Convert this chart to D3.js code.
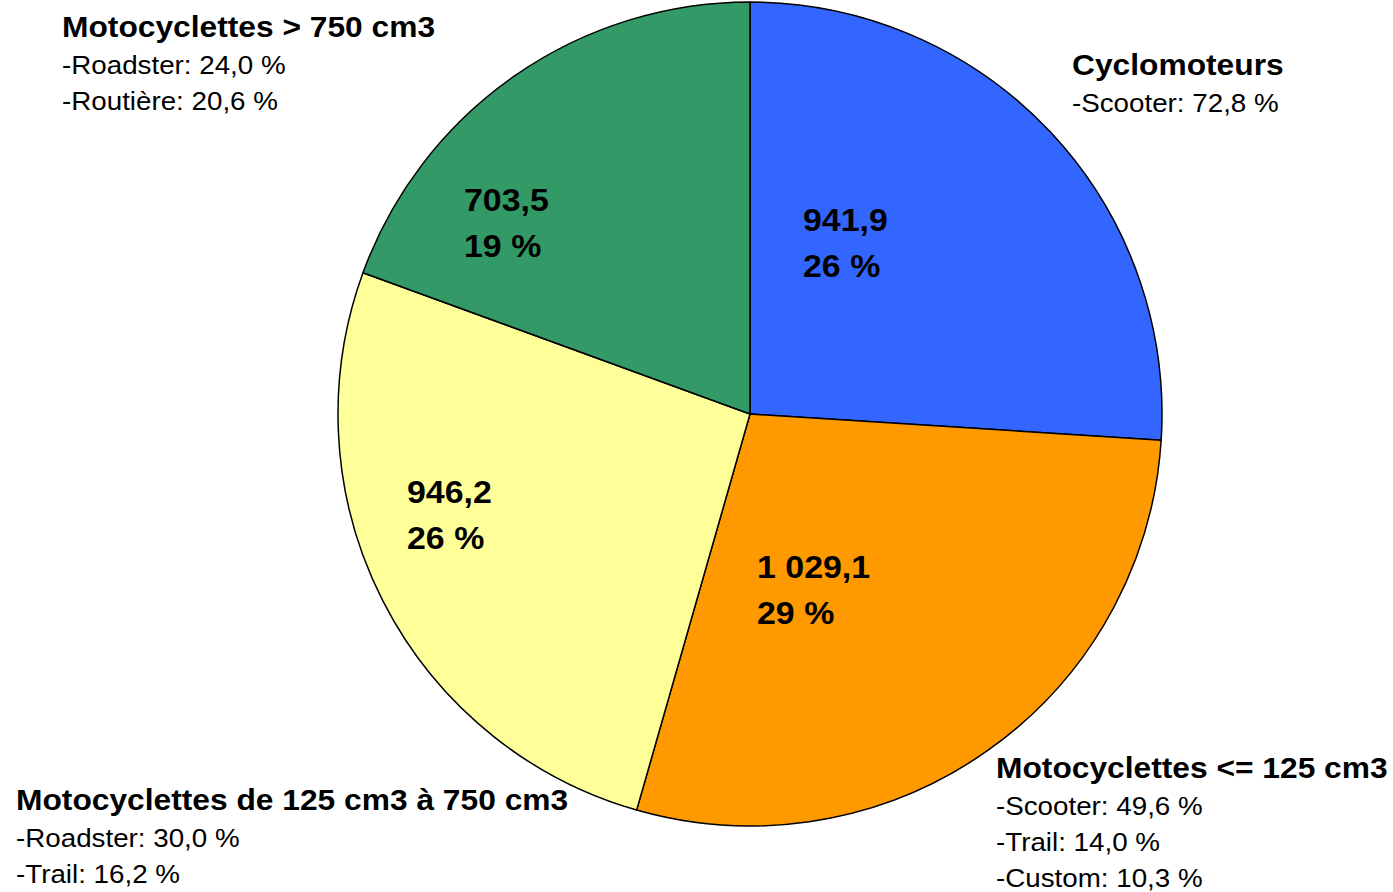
<!DOCTYPE html>
<html><head><meta charset="utf-8">
<script src="https://cdn.jsdelivr.net/npm/d3@7"></script>
<style>body{margin:0;background:#fff}svg{display:block}</style>
</head><body>
<svg id="c" width="1393" height="892"></svg>
<script>
const categories = ["Cyclomoteurs", "Motocyclettes <= 125 cm3", "Motocyclettes de 125 cm3 à 750 cm3", "Motocyclettes > 750 cm3"];
const values = [941.9, 1029.1, 946.2, 703.5];
const valueLabels = ["941,9", "1 029,1", "946,2", "703,5"];
const pctLabels = ["26 %", "29 %", "26 %", "19 %"];
const details = [
  ["-Scooter: 72,8 %"],
  ["-Scooter: 49,6 %", "-Trail: 14,0 %", "-Custom: 10,3 %"],
  ["-Roadster: 30,0 %", "-Trail: 16,2 %"],
  ["-Roadster: 24,0 %", "-Routière: 20,6 %"]
];
const colors = ["#3366FF", "#FF9900", "#FFFF99", "#339966"];

// layout
const cx = 750, cy = 414, R = 412;
const valuePos = [[803, 231], [757, 578], [407, 503], [464, 211]];
const catPos = [[1072, 75], [996, 778], [16, 810], [62, 37]];

const svg = d3.select("#c");
const g = svg.append("g").attr("transform", `translate(${cx},${cy})`);
const pie = d3.pie().sort(null).value(d => d)(values);
const arc = d3.arc().innerRadius(0).outerRadius(R);
g.selectAll("path").data(pie).join("path")
  .attr("d", arc).attr("fill", (d, i) => colors[i])
  .attr("stroke", "#000").attr("stroke-width", 1.5).attr("stroke-linejoin", "round");

const font = "'Liberation Sans', Arial, sans-serif";
function label(x, y, txt, size, bold, sx) {
  svg.append("text").attr("font-family", font).attr("font-weight", bold ? "bold" : "normal")
    .attr("font-size", size).attr("fill", "#000")
    .attr("transform", `translate(${x},${y}) scale(${sx},1)`).text(txt);
}
values.forEach((v, i) => {
  label(valuePos[i][0], valuePos[i][1], valueLabels[i], 32, true, 1.06);
  label(valuePos[i][0], valuePos[i][1] + 46, pctLabels[i], 32, true, 1.06);
});
categories.forEach((c, i) => {
  const [x, y] = catPos[i];
  label(x, y, c, 29, true, 1.095);
  details[i].forEach((d, j) => label(x, y + 37 + j * 36, d, 25, false, 1.11));
});
</script>
</body></html>
